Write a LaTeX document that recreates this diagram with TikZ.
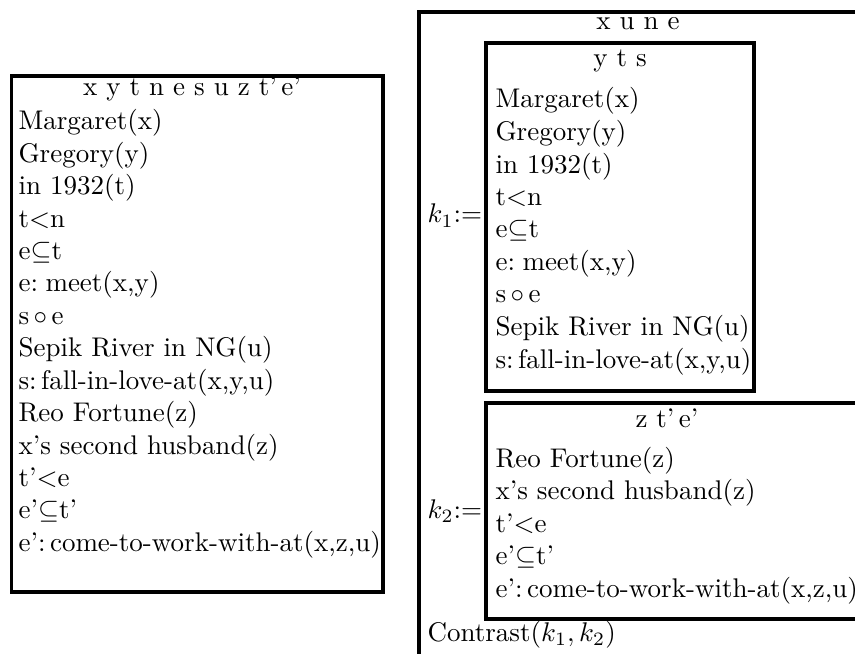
\documentclass[tikz,border=0pt]{standalone}
\usepackage{amssymb}
\tikzset{
  px/.style={x=0.37037pt,y=-0.37037pt},
  boxline/.style={draw=black,line width=1.35pt},
  row/.style={anchor=base west,inner sep=0pt,font=\fontsize{10}{12}\selectfont},
  head/.style={anchor=base,inner sep=0pt,font=\fontsize{10}{12}\selectfont},
}
\begin{document}
\begin{tikzpicture}[px]
\clip (0,0) rectangle (855,654);
\useasboundingbox (0,0) rectangle (855,654);
% ---------- left box ----------
\draw[boxline] (11.5,76) rectangle (383,592);
\node[head] (lh) at (192,96) {x\ y\ t\ n\ e\ s\ u\ z\ t'\,e'};
\foreach \t [count=\i from 0] in {
  Margaret(x),Gregory(y),in 1932(t),t$<$n,e$\subseteq$t,e:\;meet(x{,}y),
  s\,$\circ$\,e,Sepik River in NG(u),s:\,fall-in-love-at(x{,}y{,}u),
  Reo Fortune(z),x's second husband(z),t'$<$e,e'$\subseteq$t',
  e':\,come-to-work-with-at(x{,}z{,}u)}
  \node[row] (l\i) at (18,130+32.4*\i) {\t};
% ---------- right outer box ----------
\draw[boxline] (419,12) rectangle (862,664);
\node[head] (rh) at (638,30) {x\ u\ n\ e};
% k1 box
\draw[boxline] (486,43) rectangle (754,391);
\node[head] (k1h) at (620,67) {y\ t\ s};
\foreach \t [count=\i from 0] in {
  Margaret(x),Gregory(y),in 1932(t),t$<$n,e$\subseteq$t,e:\;meet(x{,}y),
  s\,$\circ$\,e,Sepik River in NG(u),s:\,fall-in-love-at(x{,}y{,}u)}
  \node[row] (a\i) at (495,108+32.5*\i) {\t};
\node[row] (k1) at (427,223) {$k_1$:=};
% k2 box
\draw[boxline] (486,403) rectangle (862,619);
\node[head] (k2h) at (667,427) {z\ t'\,e'};
\foreach \t [count=\i from 0] in {
  Reo Fortune(z),x's second husband(z),t'$<$e,e'$\subseteq$t',
  e':\,come-to-work-with-at(x{,}z{,}u)}
  \node[row] (b\i) at (495,467+32.5*\i) {\t};
\node[row] (k2) at (427,518) {$k_2$:=};
\node[row] (con) at (427,641) {Contrast($k_1, k_2$)};
\end{tikzpicture}
\end{document}
